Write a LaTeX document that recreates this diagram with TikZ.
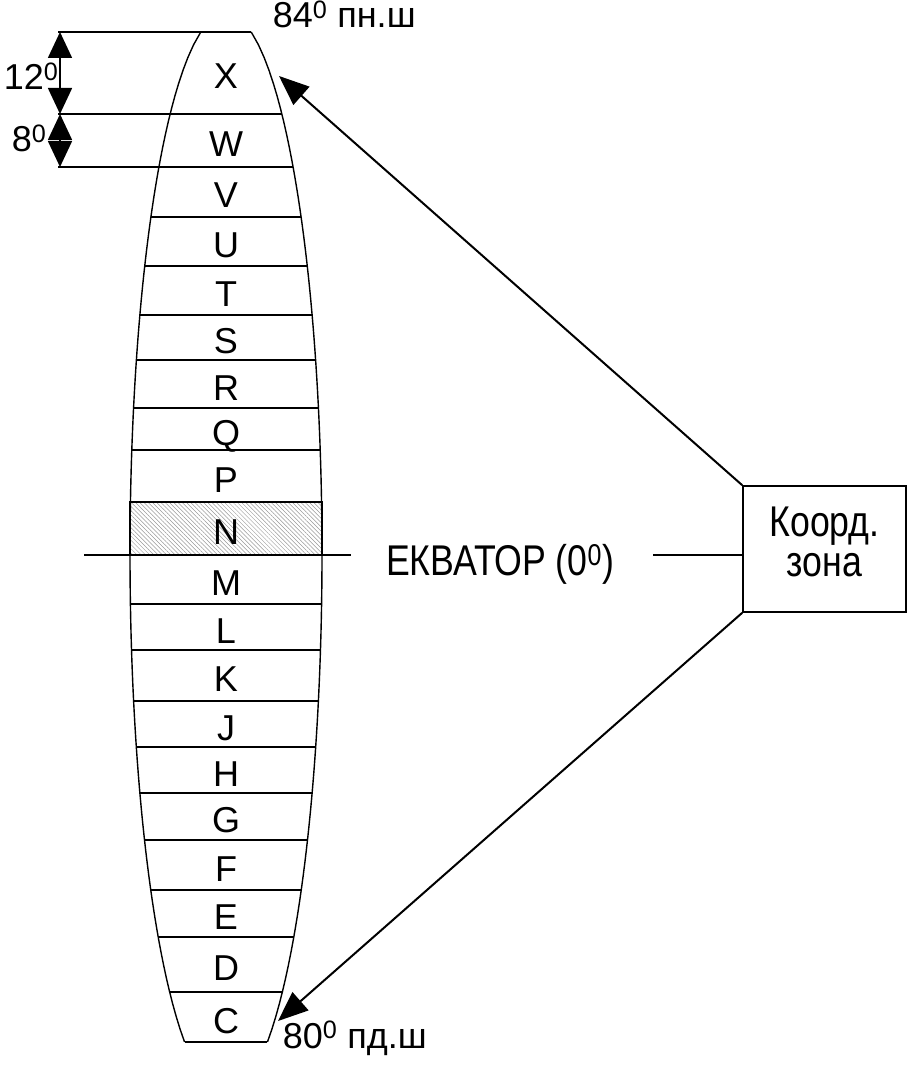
\documentclass[tikz,border=0pt]{standalone}
\usepackage{fontspec}
\setmainfont{Liberation Sans}
\newfontfamily\tallfont[FakeStretch=0.83]{Liberation Sans}
\usetikzlibrary{arrows.meta,patterns.meta}

\begin{document}
\begin{tikzpicture}[x=1pt,y=-1pt,line width=1.6pt,
		zone/.style={font=\fontsize{36}{40}\selectfont, anchor=base, inner sep=0pt},
		lbl/.style={font=\fontsize{36}{40}\selectfont, anchor=base west, inner sep=0pt},
		dim/.style={{Triangle[length=26pt,width=24pt]}-{Triangle[length=26pt,width=24pt]}},
		ptr/.style={line width=2pt, -{Triangle[length=30pt,width=24pt]}}]
		\useasboundingbox (0,0) rectangle (914,1067);
		% hatched zone N
		\fill[pattern={Lines[angle=-45,distance=3pt,line width=0.5pt]}, pattern color=gray!80] (130,502) rectangle (322,555);
		\draw (130,502) rectangle (322,555);
		% zone band
		\draw[line width=1.4pt] plot[domain=32:1042, samples=80] ({226-96*sqrt(1-((\x-554)/541)^2)}, \x);
		\draw[line width=1.4pt] plot[domain=32:1042, samples=80] ({226+96*sqrt(1-((\x-554)/541)^2)}, \x);
		\foreach \yy in {217,266,315,360,408,450,604,650,701,747,793,840,890,937,992,1042} {
			\pgfmathsetmacro\hw{96*sqrt(1-((\yy-554)/541)^2)}
			\draw ({226-\hw},\yy) -- ({226+\hw},\yy);
		}
		\foreach \yy in {32,114,167} {
			\pgfmathsetmacro\hw{96*sqrt(1-((\yy-554)/541)^2)}
			\draw (58,\yy) -- ({226+\hw},\yy);
		}
		\foreach \ya/\yb/\zn in {32/114/X,114/167/W,167/217/V,217/266/U,266/315/T,315/360/S,360/408/R,408/450/Q,450/502/P,502/555/N,555/604/M,604/650/L,650/701/K,701/747/J,747/793/H,793/840/G,840/890/F,890/937/E,937/992/D,992/1042/C}
			\node[zone] (zone\zn) at (226,{(\ya+\yb)/2+16}) {\zn};
		
		% zone heights
		\coordinate (d0) at (60,32);
		\coordinate (d1) at (60,114);
		\coordinate (d2) at (60,167);
		\draw[dim] (d0) -- (d1);
		\draw[dim] (d1) -- (d2);
		\node[lbl] (deg12) at (3,90) {12\textsuperscript{0}};
		\node[lbl] (deg8) at (11,152) {8\textsuperscript{0}};
		
		\node[lbl] (north) at (272,28) {84\textsuperscript{0} пн.ш};
		\node[lbl] (south) at (282,1048) {80\textsuperscript{0} пд.ш};
		
		% equator
		\node[draw, minimum width=163pt, minimum height=126pt, align=center, inner sep=0pt,
		text depth=14pt, font=\tallfont\fontsize{43}{40}\selectfont] (coord) at (824.5,549) {Коорд.\\зона};
		\node[zone, font=\tallfont\fontsize{43}{40}\selectfont] (eq) at (500,575) {ЕКВАТОР (0\textsuperscript{0})};
		\coordinate (eqA) at (84,555);
		\coordinate (eqB) at (351,555);
		\coordinate (eqC) at (653,555);
		\draw (eqA) -- (eqB);
		\draw (eqC) -- (eqC -| coord.west);
		
		\coordinate (tipX) at (279,76);
		\coordinate (tipC) at (278,1021);
		\draw[ptr] (coord.north west) -- (tipX);
		\draw[ptr] (coord.south west) -- (tipC);
		
\end{tikzpicture}
\end{document}
